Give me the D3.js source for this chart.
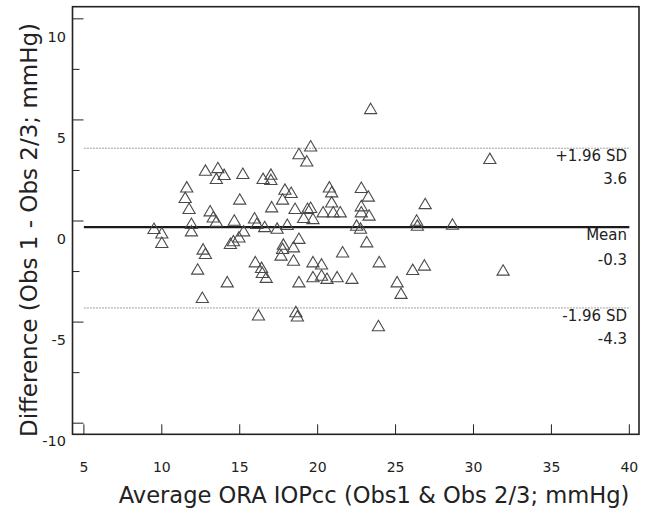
<!DOCTYPE html>
<html>
<head>
<meta charset="utf-8">
<script src="https://cdn.jsdelivr.net/npm/d3@7"></script>
<style>
body { margin: 0; background: #fff; }
text { font-family: "DejaVu Sans", Verdana, sans-serif; fill: #222; }
</style>
</head>
<body>
<div id="chart"></div>
<script>
// Bland-Altman data
const avgIOP = [
  12.8, 13.6, 13.5, 14.0, 15.2, 16.5, 17.0, 17.0, 11.6, 11.5, 15.0, 11.75, 13.1, 13.3, 13.5, 14.65, 15.95, 17.05, 11.9, 16.1, 16.6,
  9.5, 10.0, 10.0, 11.9, 12.65, 12.8, 12.3, 12.6, 14.2, 14.4, 14.6, 14.95, 15.25, 16.0, 16.4, 16.45, 16.7, 16.2, 17.4,
  23.4, 19.55, 18.8, 19.3, 17.9, 18.3, 17.75, 18.55, 20.75, 20.9, 20.9, 22.8, 23.25, 22.8, 22.8, 23.3, 26.9, 19.35, 19.55, 19.1, 19.7, 20.35, 21.0, 21.45, 26.35, 26.4, 28.65,
  18.05, 22.5, 22.75, 18.8, 17.8, 17.75, 17.65, 18.45, 18.45, 18.8, 19.7, 20.25, 19.7, 20.25, 20.6, 21.25, 21.6, 22.2, 23.15, 23.95, 26.1, 26.85, 25.1, 25.35, 18.6, 18.7, 23.9,
  31.05, 31.9
];
const diffIOP = [
  2.52, 2.65, 2.11, 2.31, 2.36, 2.11, 2.32, 2.06, 1.69, 1.17, 1.09, 0.63, 0.51, 0.21, 0.0, 0.05, 0.16, 0.71, -0.11, -0.11, -0.27,
  -0.36, -0.58, -1.05, -0.48, -1.38, -1.6, -2.37, -3.77, -3.0, -1.1, -0.97, -0.78, -0.48, -2.01, -2.29, -2.54, -2.78, -4.64, -0.35,
  5.57, 3.72, 3.34, 2.98, 1.58, 1.42, 1.09, 0.63, 1.69, 1.45, 0.95, 1.67, 1.24, 0.76, 0.46, 0.3, 0.87, 0.63, 0.68, 0.18, 0.13, 0.46, 0.46, 0.46, 0.05, -0.2, -0.15,
  -0.16, -0.2, -0.35, -0.85, -1.14, -1.35, -1.68, -1.27, -1.93, -3.0, -2.01, -2.12, -2.75, -2.67, -2.83, -2.75, -1.52, -2.83, -1.02, -2.01, -2.39, -2.17, -3.0, -3.57, -4.48, -4.69, -5.17,
  3.1, -2.42
];

// reference lines: value and labels
const refValues = [3.6, -0.3, -4.3];
const refNames = ["+1.96 SD", "Mean", "-1.96 SD"];
const refLabels = ["3.6", "-0.3", "-4.3"];

const xTicks = [5, 10, 15, 20, 25, 30, 35, 40];
const yMajor = [-10, -5, 0, 5, 10];
const yMinor = [-7.5, -2.5, 2.5, 7.5];

const W = 652, H = 515;
const plotL = 72.5, plotR = 639, plotT = 6.7, plotB = 434.3;

const svg = d3.select("#chart").append("svg")
    .attr("width", W)
    .attr("height", H);

const x = d3.scaleLinear().domain([4.27, 40.62]).range([plotL, plotR]);
const y = d3.scaleLinear().domain([-10.55, 10.6]).range([plotB, plotT]);

// reference lines
svg.selectAll(".ref")
    .data(refValues)
    .enter().append("line")
    .attr("x1", x(5)).attr("x2", x(40))
    .attr("y1", d => y(d)).attr("y2", d => y(d))
    .attr("stroke", (d, i) => i === 1 ? "#1a1a1a" : "#a0a0a0")
    .attr("stroke-width", (d, i) => i === 1 ? 2.2 : 1)
    .attr("stroke-dasharray", (d, i) => i === 1 ? null : "2,1");

svg.selectAll(".refname")
    .data(refValues)
    .enter().append("text")
    .attr("x", 627).attr("y", d => y(d) + 8)
    .attr("dy", "0.35em")
    .attr("text-anchor", "end")
    .attr("font-size", 15)
    .text((d, i) => refNames[i]);

svg.selectAll(".refval")
    .data(refValues)
    .enter().append("text")
    .attr("x", 627).attr("y", (d, i) => y(d) + (i === 1 ? 33 : 31))
    .attr("dy", "0.35em")
    .attr("text-anchor", "end")
    .attr("font-size", 15)
    .text((d, i) => refLabels[i]);

// points
const tri = "M0,-5.2L6.1,5.2L-6.1,5.2Z";
svg.append("g").selectAll("path")
    .data(avgIOP)
    .enter().append("path")
    .attr("d", tri)
    .attr("transform", (d, i) => "translate(" + x(d) + "," + y(diffIOP[i]) + ")")
    .attr("fill", "none")
    .attr("stroke", "#4a4a4a")
    .attr("stroke-width", 1.1);

// ticks
svg.append("g").selectAll("line")
    .data(xTicks)
    .enter().append("line")
    .attr("x1", d => x(d)).attr("x2", d => x(d))
    .attr("y1", plotB).attr("y2", plotB - 10)
    .attr("stroke", "#222").attr("stroke-width", 1);

svg.append("g").selectAll("text")
    .data(xTicks)
    .enter().append("text")
    .attr("x", d => x(d)).attr("y", 467)
    .attr("dy", "0.35em")
    .attr("text-anchor", "middle")
    .attr("font-size", 14)
    .text(d => d);

svg.append("g").selectAll("line")
    .data(yMajor.concat(yMinor))
    .enter().append("line")
    .attr("x1", plotL).attr("x2", (d, i) => plotL + (i < yMajor.length ? 11 : 7))
    .attr("y1", d => y(d)).attr("y2", d => y(d))
    .attr("stroke", "#222").attr("stroke-width", 1);

svg.append("g").selectAll("text")
    .data(yMajor)
    .enter().append("text")
    .attr("x", 66).attr("y", d => y(d) + 18)
    .attr("dy", "0.35em")
    .attr("text-anchor", "end")
    .attr("font-size", 14.5)
    .text(d => d);

// frame
svg.append("rect")
    .attr("x", plotL).attr("y", plotT)
    .attr("width", plotR - plotL).attr("height", plotB - plotT)
    .attr("fill", "none")
    .attr("stroke", "#222")
    .attr("stroke-width", 1.6);

// axis titles
svg.append("text")
    .attr("x", 374).attr("y", 503)
    .attr("text-anchor", "middle")
    .attr("font-size", 22.6)
    .text("Average ORA IOPcc (Obs1 & Obs 2/3; mmHg)");

svg.append("text")
    .attr("transform", "translate(37,230) rotate(-90)")
    .attr("text-anchor", "middle")
    .attr("font-size", 23)
    .text("Difference (Obs 1 - Obs 2/3; mmHg)");
</script>
</body>
</html>
